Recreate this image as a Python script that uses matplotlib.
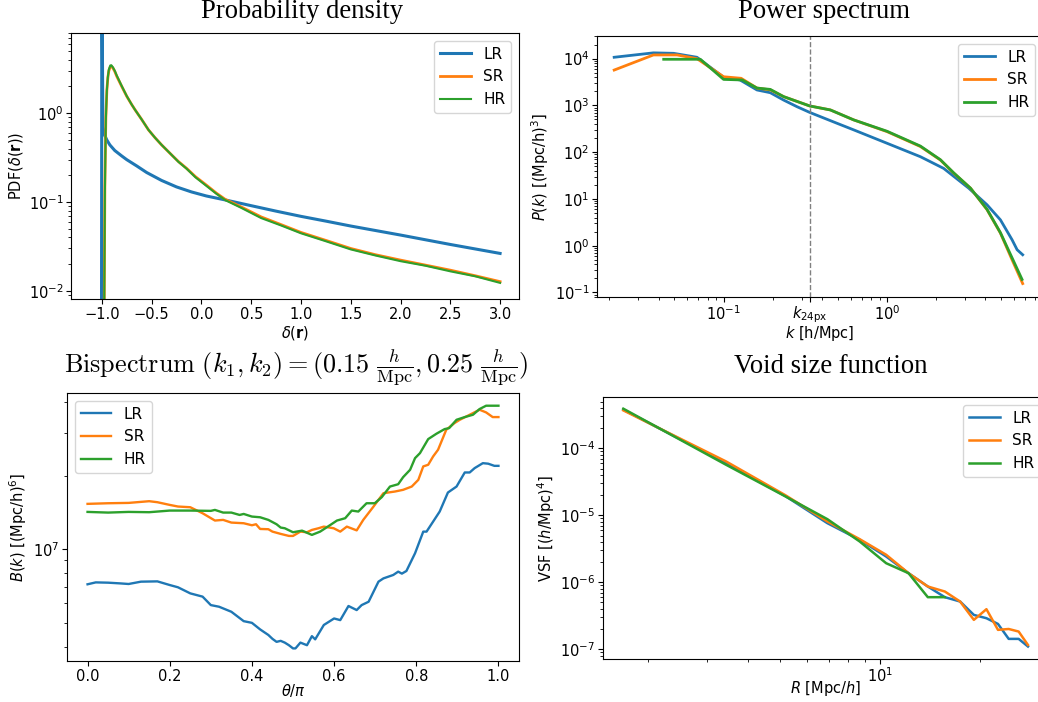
import numpy as np
import matplotlib.pyplot as plt
from matplotlib.ticker import NullFormatter

# ---- Probability density ----
pdf_lr_x = [-1.005, -1.0, -0.99, -0.97, -0.95, -0.92, -0.87, -0.8, -0.75, -0.65, -0.55, -0.4,
            -0.25, -0.1, 0.05, 0.25, 0.5, 0.75, 1.0, 1.25, 1.5, 2.0, 2.5, 3.0]
pdf_lr_y = [1e-4, 60, 0.70, 0.56, 0.50, 0.44, 0.38, 0.33, 0.30, 0.255, 0.215, 0.175,
            0.148, 0.13, 0.117, 0.105, 0.091, 0.079, 0.069, 0.061, 0.0537, 0.0425, 0.0333, 0.0264]

pdf_sr_x = [-0.98, -0.97, -0.96, -0.95, -0.94, -0.93, -0.915, -0.905, -0.89, -0.87, -0.85, -0.8,
            -0.75, -0.7, -0.666, -0.6, -0.532, -0.466, -0.4, -0.3, -0.23, -0.15, -0.06, 0.05,
            0.15, 0.24, 0.4, 0.6, 0.8, 1.0, 1.25, 1.5, 1.75, 2.0, 2.25, 2.5, 2.75, 3.0]
pdf_sr_y = [1e-3, 0.15, 0.9, 1.8, 2.5, 3.0, 3.35, 3.38, 3.25, 2.95, 2.6, 2.0,
            1.55, 1.25, 1.09, 0.85, 0.65, 0.53, 0.44, 0.34, 0.285, 0.24, 0.193, 0.155,
            0.126, 0.107, 0.088, 0.068, 0.0557, 0.0455, 0.037, 0.030, 0.0255, 0.0222, 0.0195, 0.0171, 0.0148, 0.0127]

pdf_hr_x = [-0.98, -0.97, -0.96, -0.95, -0.94, -0.93, -0.915, -0.905, -0.89, -0.87, -0.85, -0.8,
            -0.75, -0.7, -0.666, -0.6, -0.532, -0.466, -0.4, -0.3, -0.23, -0.15, -0.06, 0.05,
            0.15, 0.24, 0.4, 0.6, 0.8, 1.0, 1.25, 1.5, 1.75, 2.0, 2.25, 2.5, 2.75, 3.0]
pdf_hr_y = [1e-3, 0.12, 0.85, 1.8, 2.55, 3.1, 3.45, 3.47, 3.3, 3.0, 2.65, 2.02,
            1.56, 1.25, 1.09, 0.85, 0.65, 0.53, 0.44, 0.34, 0.283, 0.238, 0.19, 0.152,
            0.124, 0.105, 0.086, 0.066, 0.0545, 0.0445, 0.0362, 0.0293, 0.0250, 0.0216, 0.0192, 0.0166, 0.0146, 0.0123]

# ---- Power spectrum ----
pk_lr_k = [0.0214, 0.0372, 0.0494, 0.0687, 0.100, 0.126, 0.160, 0.193, 0.233, 0.281, 0.336,
           0.494, 0.625, 1.00, 1.60, 2.22, 2.81, 3.16, 4.09, 4.94, 5.82, 6.25, 6.76]
pk_lr_p = [10700, 13300, 13000, 10700, 4000, 3500, 2140, 1870, 1300, 940, 710,
           415, 300, 155, 80, 45, 23.5, 17, 7.5, 3.57, 1.34, 0.82, 0.64]

pk_sr_k = [0.0214, 0.0372, 0.0519, 0.0687, 0.100, 0.128, 0.160, 0.193, 0.233, 0.336, 0.450,
           0.625, 1.00, 1.60, 2.12, 2.56, 3.24, 4.09, 4.94, 5.82, 6.76]
pk_sr_p = [5700, 12000, 12000, 10000, 4100, 3800, 2350, 2150, 1540, 975, 800,
           490, 275, 132, 68, 35.5, 17, 5.9, 1.86, 0.50, 0.155]

pk_hr_k = [0.0430, 0.0720, 0.100, 0.130, 0.160, 0.193, 0.233, 0.336, 0.450, 0.625, 1.00,
           1.60, 2.12, 2.56, 3.24, 4.09, 4.94, 5.82, 6.70]
pk_hr_p = [9700, 9700, 3600, 3500, 2350, 2200, 1540, 975, 800, 490, 280,
           135, 69, 36, 17, 6.0, 1.9, 0.55, 0.19]

k_24px = 0.336

# ---- Bispectrum (values in 1e6 (Mpc/h)^6) ----
bk_lr_t = [0.0, 0.02, 0.05, 0.08, 0.1, 0.13, 0.17, 0.2, 0.22, 0.25, 0.28, 0.3, 0.32, 0.35, 0.38,
           0.4, 0.42, 0.44, 0.45, 0.46, 0.47, 0.48, 0.49, 0.5, 0.506, 0.518, 0.534, 0.546, 0.554,
           0.575, 0.6, 0.615, 0.635, 0.655, 0.667, 0.684, 0.708, 0.72, 0.744, 0.756, 0.765, 0.776,
           0.797, 0.817, 0.825, 0.841, 0.857, 0.877, 0.898, 0.918, 0.93, 0.942, 0.962, 0.975, 0.99, 1.0]
bk_lr_b = [7.19, 7.32, 7.30, 7.25, 7.21, 7.37, 7.39, 7.14, 6.99, 6.60, 6.40, 5.91, 5.82, 5.55, 5.08,
           5.00, 4.70, 4.46, 4.30, 4.18, 4.22, 4.15, 4.05, 3.93, 3.93, 4.15, 4.05, 4.41, 4.28,
           4.90, 5.21, 5.13, 5.86, 5.64, 5.91, 6.10, 7.37, 7.60, 7.85, 8.10, 7.95, 8.15,
           9.63, 11.81, 11.81, 12.98, 14.27, 17.07, 18.06, 20.62, 20.62, 21.48, 22.51, 22.4, 21.95, 21.95]

bk_sr_t = [0.0, 0.05, 0.1, 0.15, 0.17, 0.2, 0.22, 0.25, 0.28, 0.31, 0.33, 0.35, 0.38, 0.4, 0.41,
           0.42, 0.44, 0.45, 0.47, 0.49, 0.5, 0.518, 0.534, 0.546, 0.562, 0.575, 0.599, 0.615,
           0.631, 0.655, 0.671, 0.696, 0.72, 0.748, 0.768, 0.789, 0.805, 0.817, 0.829, 0.841,
           0.853, 0.873, 0.893, 0.906, 0.93, 0.954, 0.97, 0.986, 1.0]
bk_sr_b = [15.34, 15.43, 15.48, 15.73, 15.58, 15.19, 14.96, 14.86, 14.04, 13.11, 13.19, 12.86, 12.78, 12.54, 12.66,
           12.11, 12.08, 11.81, 11.56, 11.34, 11.34, 11.81, 11.74, 12.0, 12.19, 12.38, 12.19, 11.81,
           12.38, 11.95, 13.19, 14.96, 16.96, 17.23, 17.51, 18.06, 19.24, 21.83, 22.17, 23.98,
           25.54, 30.84, 32.84, 33.88, 35.52, 37.24, 36.31, 34.75, 34.75]

bk_hr_t = [0.0, 0.05, 0.1, 0.15, 0.2, 0.25, 0.3, 0.31, 0.33, 0.35, 0.37, 0.38, 0.4, 0.42, 0.44,
           0.46, 0.47, 0.48, 0.5, 0.522, 0.546, 0.566, 0.591, 0.607, 0.627, 0.643, 0.659, 0.679,
           0.699, 0.716, 0.736, 0.756, 0.768, 0.785, 0.797, 0.809, 0.829, 0.849, 0.869, 0.88,
           0.898, 0.918, 0.938, 0.954, 0.97, 1.0]
bk_hr_b = [14.22, 14.13, 14.22, 14.18, 14.40, 14.40, 14.36, 14.49, 14.13, 14.13, 13.82, 13.95, 13.61, 13.52, 13.19,
           12.66, 12.27, 12.19, 11.74, 11.92, 11.45, 11.81, 12.58, 13.11, 13.40, 14.40, 14.27, 15.43,
           15.43, 16.34, 18.06, 18.46, 19.73, 21.15, 23.60, 24.74, 28.24, 29.70, 31.03, 31.32,
           33.88, 34.75, 35.52, 37.48, 38.68, 38.68]

# ---- Void size function ----
vsf_r = [1.68, 3.43, 5.18, 6.93, 8.68, 10.43, 12.18, 13.93, 15.68, 17.43, 19.18, 20.93,
         22.68, 24.43, 26.18, 27.93]
vsf_lr = [3.79e-4, 6.04e-5, 1.94e-5, 7.66e-6, 4.31e-6, 2.43e-6, 1.37e-6, 8.66e-7, 6.00e-7,
          5.17e-7, 3.26e-7, 2.91e-7, 2.39e-7, 1.43e-7, 1.43e-7, 1.10e-7]
vsf_sr = [3.70e-4, 6.39e-5, 2.00e-5, 8.11e-6, 4.41e-6, 2.58e-6, 1.37e-6, 8.66e-7, 7.29e-7,
          5.17e-7, 2.75e-7, 3.97e-7, 1.95e-7, 2.01e-7, 1.84e-7, 1.16e-7]
vsf_hr = [3.92e-4, 5.70e-5, 1.92e-5, 8.79e-6, 4.07e-6, 1.93e-6, 1.37e-6, 6.00e-7, 6.00e-7]

labels = ['LR', 'SR', 'HR']
colors = ['C0', 'C1', 'C2']

plt.rcParams['font.size'] = 10.5
plt.rcParams['legend.fontsize'] = 11
plt.rcParams['xtick.major.pad'] = 2
plt.rcParams['ytick.major.pad'] = 2
plt.rcParams['xtick.minor.pad'] = 2
plt.rcParams['ytick.minor.pad'] = 2
plt.rcParams['axes.labelpad'] = 2.5

fig = plt.figure(figsize=(10.38, 7.02), dpi=100)
W, H = 1038.0, 702.0


def place(l, t, r, b):
    return fig.add_axes([l / W, 1 - b / H, (r - l) / W, (b - t) / H])


title_font = dict(family='Liberation Serif', fontsize=19.2, ha='center', va='baseline')

# Probability density
ax1 = place(71, 33, 519, 299)
ax1.plot(pdf_lr_x, pdf_lr_y, color=colors[0], lw=2.2, label=labels[0])
ax1.plot(pdf_sr_x, pdf_sr_y, color=colors[1], lw=2.0, label=labels[1])
ax1.plot(pdf_hr_x, pdf_hr_y, color=colors[2], lw=1.5, label=labels[2])
ax1.set_yscale('log')
ax1.set_xlim(-1.31, 3.19)
ax1.set_ylim(0.0081, 8.0)
ax1.set_xlabel(r'$\delta(\mathbf{r})$')
ax1.xaxis.set_label_coords(0.5, -0.094)
ax1.set_ylabel(r'PDF($\delta(\mathbf{r})$)')
ax1.legend(loc='upper right')
fig.text(301.7 / W, 1 - 18.3 / H, 'Probability density', **title_font)

# Power spectrum
ax2 = place(597, 36, 1043, 297)
ax2.plot(pk_lr_k, pk_lr_p, color=colors[0], lw=2, label=labels[0])
ax2.plot(pk_sr_k, pk_sr_p, color=colors[1], lw=2, label=labels[1])
ax2.plot(pk_hr_k, pk_hr_p, color=colors[2], lw=2, label=labels[2])
ax2.axvline(k_24px, color='gray', ls='--', lw=1)
ax2.set_xscale('log')
ax2.set_yscale('log')
ax2.set_xlim(0.0168, 9.0)
ax2.set_ylim(0.08, 30500)
ax2.set_xticks([0.1, k_24px, 1.0])
ax2.set_xticklabels([r'$10^{-1}$', r'$k_{24\mathrm{px}}$', r'$10^{0}$'])
ax2.xaxis.set_minor_formatter(NullFormatter())
ax2.set_xlabel(r'$k$ [h/Mpc]')
ax2.xaxis.set_label_coords(0.5, -0.102)
ax2.set_ylabel(r'$P(k)$ [(Mpc/h)$^3$]')
ax2.legend(loc='upper right')
fig.text(824 / W, 1 - 18 / H, 'Power spectrum', **title_font)

# Bispectrum
ax3 = place(67, 393, 519, 661)
ax3.plot(bk_lr_t, np.array(bk_lr_b) * 1e6, color=colors[0], lw=1.7, label=labels[0])
ax3.plot(bk_sr_t, np.array(bk_sr_b) * 1e6, color=colors[1], lw=1.7, label=labels[1])
ax3.plot(bk_hr_t, np.array(bk_hr_b) * 1e6, color=colors[2], lw=1.7, label=labels[2])
ax3.set_yscale('log')
ax3.set_xlim(-0.05, 1.05)
ax3.set_ylim(3.49e6, 4.36e7)
ax3.yaxis.set_minor_formatter(NullFormatter())
ax3.set_xlabel(r'$\theta/\pi$')
ax3.xaxis.set_label_coords(0.5, -0.078)
ax3.set_ylabel(r'$B(k)$ [(Mpc/h)$^6$]')
ax3.legend(loc='upper left')
fig.text(295.7 / W, 1 - 373 / H,
         r'$\mathrm{Bispectrum}\ (k_1, k_2) = (0.15\ \frac{h}{\mathrm{Mpc}}, 0.25\ \frac{h}{\mathrm{Mpc}})$',
         fontsize=18.8, ha='center', va='baseline', math_fontfamily='cm')

# Void size function
ax4 = place(603, 397, 1048, 659)
ax4.plot(vsf_r, vsf_lr, color=colors[0], lw=1.8, label=labels[0])
ax4.plot(vsf_r, vsf_sr, color=colors[1], lw=1.8, label=labels[1])
ax4.plot(vsf_r[:len(vsf_hr)], vsf_hr, color=colors[2], lw=1.8, label=labels[2])
ax4.set_xscale('log')
ax4.set_yscale('log')
ax4.set_xlim(1.459, 32.1)
ax4.set_ylim(7.16e-8, 5.86e-4)
ax4.xaxis.set_minor_formatter(NullFormatter())
ax4.set_xlabel(r'$R$ [Mpc/$h$]')
ax4.xaxis.set_label_coords(0.5, -0.076)
ax4.set_ylabel(r'VSF [$(h/$Mpc$)^4$]')
ax4.legend(loc='upper right')
fig.text(831 / W, 1 - 373.3 / H, 'Void size function', **title_font)

fig.savefig('out.png', dpi=100)
